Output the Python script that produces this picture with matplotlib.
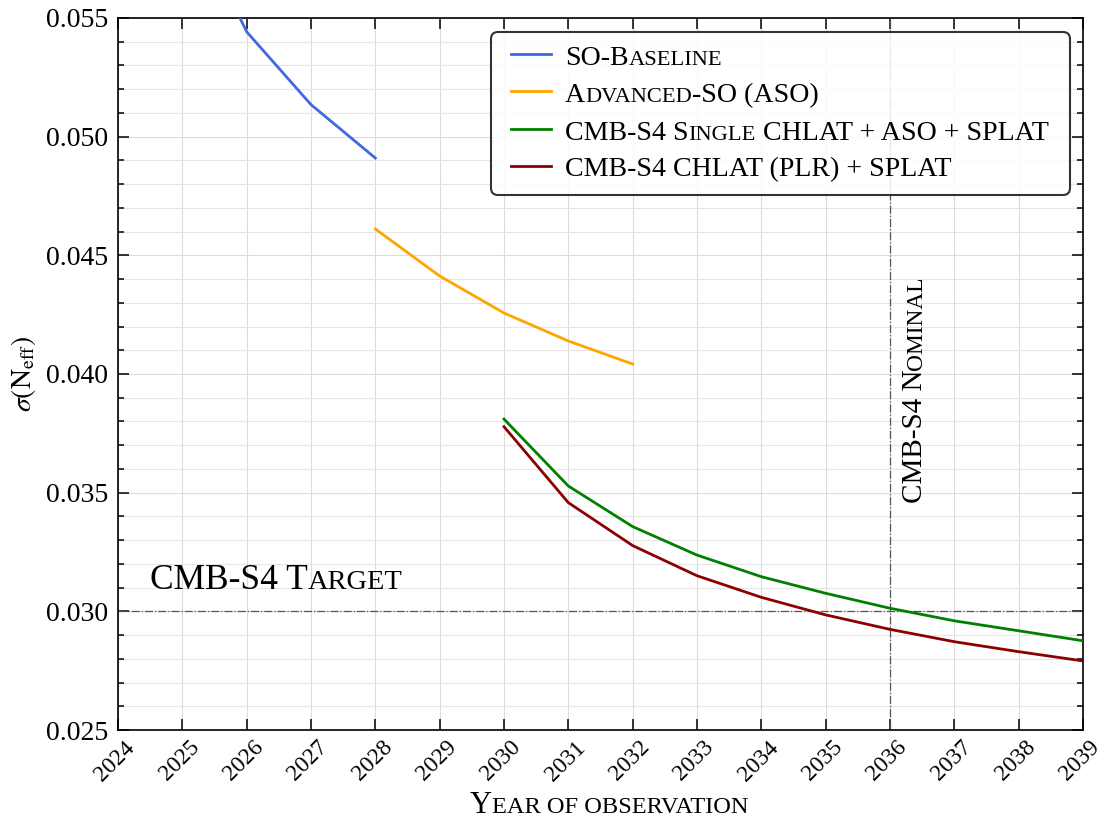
import matplotlib
matplotlib.use('Agg')
import matplotlib.pyplot as plt
from matplotlib.ticker import MultipleLocator, FormatStrFormatter
from matplotlib.transforms import Affine2D, IdentityTransform
from matplotlib.font_manager import FontProperties
from matplotlib.patches import FancyBboxPatch
from matplotlib.lines import Line2D

FAM = ['Liberation Serif', 'DejaVu Serif']
plt.rcParams['font.family'] = FAM
plt.rcParams['mathtext.fontset'] = 'stix'

# ---------------- data ----------------
years_so = [2025, 2026, 2027, 2028]
sigma_so = [0.0600, 0.05442, 0.05135, 0.04910]

years_aso = [2028, 2029, 2030, 2031, 2032]
sigma_aso = [0.04611, 0.04413, 0.04257, 0.04139, 0.04042]

years_s4 = [2030, 2031, 2032, 2033, 2034, 2035, 2036, 2037, 2038, 2039]
sigma_single = [0.03810, 0.03528, 0.03357, 0.03237, 0.03146, 0.03076, 0.03013, 0.02960, 0.02918, 0.02876]
sigma_plr = [0.03778, 0.03458, 0.03277, 0.03150, 0.03059, 0.02985, 0.02924, 0.02872, 0.02830, 0.02791]

series_labels = ['SO-Baseline', 'Advanced-SO (ASO)',
                 'CMB-S4 Single CHLAT + ASO + SPLAT', 'CMB-S4 CHLAT (PLR) + SPLAT']
series_colors = ['#4169E1', '#FFA500', '#008000', '#8B0000']

target_value = 0.030
target_label = 'CMB-S4 Target'
nominal_year = 2036
nominal_label = 'CMB-S4 Nominal'
x_ticks = list(range(2024, 2040))
xlabel = 'Year of observation'

W, H = 1101, 818
fig = plt.figure(figsize=(W / 100, H / 100), dpi=100)
ax = fig.add_axes([118 / W, 1 - 730 / H, (1083 - 118) / W, (730 - 18) / H])

for xs, ys, c in zip([years_so, years_aso, years_s4, years_s4],
                     [sigma_so, sigma_aso, sigma_single, sigma_plr], series_colors):
    ax.plot(xs, ys, color=c, lw=2.0, zorder=3)

ax.axhline(target_value, color='#555555', ls='-.', lw=0.9, zorder=2)
ax.axvline(nominal_year, color='#555555', ls='-.', lw=0.9, zorder=2)

ax.set_xlim(2024, 2039)
ax.set_ylim(0.025, 0.055)
ax.set_xticks(x_ticks)
ax.set_xticklabels([str(t) for t in x_ticks], rotation=45)
ax.yaxis.set_major_locator(MultipleLocator(0.005))
ax.yaxis.set_minor_locator(MultipleLocator(0.001))
ax.yaxis.set_major_formatter(FormatStrFormatter('%.3f'))
ax.tick_params(which='both', direction='in', top=True, right=True, width=1.1)
ax.tick_params(which='major', length=8, labelsize=20, pad=7)
ax.tick_params(axis='x', which='major', pad=5, labelsize=17)
ax.tick_params(which='minor', length=4)
ax.grid(which='major', color='#dcdcdc', lw=0.8, zorder=0)
ax.grid(which='minor', axis='y', color='#e6e6e6', lw=0.8, zorder=0)
ax.set_axisbelow(True)
for s in ax.spines.values():
    s.set_linewidth(1.2)
for lbl in ax.get_xticklabels():
    lbl.set_transform(lbl.get_transform() + Affine2D().translate(-3, 0))

ax.set_ylabel(r'$\sigma(\mathrm{N}_{\mathrm{eff}})$', fontsize=20, labelpad=6)

# ---------------- small caps helper ----------------
SC = 0.80
renderer = fig.canvas.get_renderer()


def sc_runs(s):
    cls = []
    for i, ch in enumerate(s):
        if ch == ' ':
            nxt = next((c for c in s[i + 1:] if c != ' '), 'A')
            cls.append(nxt.islower())
        else:
            cls.append(ch.islower())
    runs = []
    for ch, c in zip(s, cls):
        t = ch.upper() if c else ch
        if runs and runs[-1][1] == c:
            runs[-1][0] += t
        else:
            runs.append([t, c])
    return runs


def width(t, p):
    a = renderer.get_text_width_height_descent(t + '|', p, ismath=False)[0]
    b = renderer.get_text_width_height_descent('|', p, ismath=False)[0]
    return a - b


def sc_text(x, y, s, size, transform, rotation=0, ha='left', zorder=6):
    big = FontProperties(family=FAM, size=size)
    small = FontProperties(family=FAM, size=size * SC)
    pieces = [(t, small if c else big) for t, c in sc_runs(s)]
    ws = [width(t, p) for t, p in pieces]
    off = {'left': 0, 'center': -sum(ws) / 2, 'right': -sum(ws)}[ha]
    for (t, p), w in zip(pieces, ws):
        if rotation == 0:
            tr = transform + Affine2D().translate(off, 0)
        else:
            tr = transform + Affine2D().translate(0, off)
        fig.text(x, y, t, fontproperties=p, transform=tr, rotation=rotation,
                 rotation_mode='anchor', ha='left', va='baseline', color='black',
                 zorder=zorder)
        off += w


def px(xp, yp):
    return xp, H - yp

# annotations
sc_text(2024.5, 0.03095, target_label, 25.5, ax.transData)
sc_text(2036.5, 0.03456, nominal_label, 21, ax.transData, rotation=90)
sc_text(*px(609, 813), xlabel, 22, IdentityTransform(), ha='center')

# ---------------- legend ----------------
bx0, by0, bx1, by1 = 491, 32, 1070, 195
box = FancyBboxPatch(px(bx0, by1), bx1 - bx0, by1 - by0,
                     boxstyle='round,pad=0,rounding_size=7',
                     transform=IdentityTransform(),
                     edgecolor='#333333', lw=1.5, zorder=4)
box.set_facecolor((1, 1, 1, 0.85))
fig.add_artist(box)
row_base = [65, 102, 139.5, 176.5]
for lab, col, yb in zip(series_labels, series_colors, row_base):
    ly = H - (yb - 11)
    fig.add_artist(Line2D([511, 551], [ly, ly], color=col, lw=2.0,
                          transform=IdentityTransform(), zorder=5))
    sc_text(*px(565, yb), lab, 20.2, IdentityTransform())

fig.savefig('out.png', dpi=100)
